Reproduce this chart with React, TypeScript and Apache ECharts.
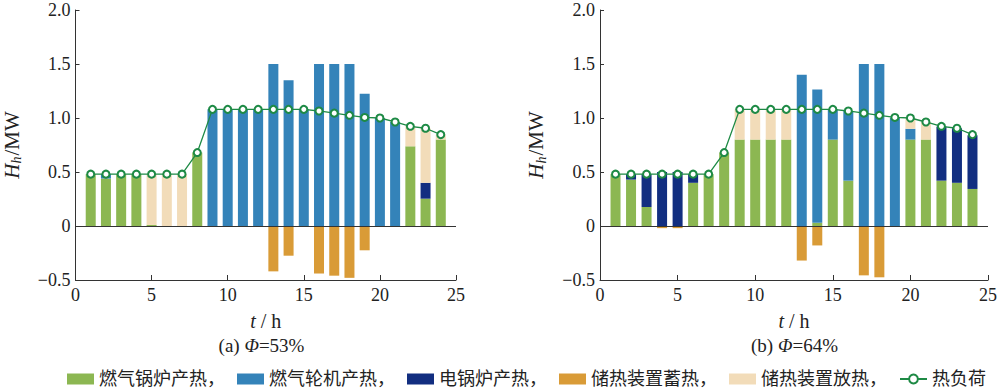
import React, { useEffect, useRef } from "react";
import * as echarts from "echarts";

// ---- data ----
const hours = [1, 2, 3, 4, 5, 6, 7, 8, 9, 10, 11, 12, 13, 14, 15, 16, 17, 18, 19, 20, 21, 22, 23, 24];

const heatLoad = [0.48, 0.48, 0.48, 0.48, 0.48, 0.48, 0.48, 0.68, 1.08, 1.08, 1.08, 1.08, 1.08, 1.08, 1.08, 1.065, 1.045, 1.025, 1.005, 1.0, 0.963, 0.923, 0.905, 0.846];

// (a) Φ = 53%
const gasBoilerA = [0.48, 0.44, 0.48, 0.48, 0.01, 0, 0, 0.68, 0, 0, 0, 0, 0, 0, 0, 0, 0, 0, 0, 0, 0, 0.738, 0.253, 0.8];
const gasTurbineA = [0, 0.04, 0, 0, 0, 0, 0, 0, 1.08, 1.08, 1.08, 1.08, 1.5, 1.35, 1.08, 1.5, 1.5, 1.5, 1.225, 1.0, 0.963, 0, 0, 0];
const elecBoilerA = [0, 0, 0, 0, 0, 0, 0, 0, 0, 0, 0, 0, 0, 0, 0, 0, 0, 0, 0, 0, 0, 0, 0.147, 0];
const storeChargeA = [0, 0, 0, 0, 0, 0, 0, 0, 0, 0, 0, 0, -0.42, -0.275, 0, -0.44, -0.46, -0.48, -0.225, 0, 0, 0, 0, 0];
const storeDischargeA = [0, 0, 0, 0, 0.47, 0.48, 0.48, 0, 0, 0, 0, 0, 0, 0, 0, 0, 0, 0, 0, 0, 0, 0.185, 0.505, 0.046];

// (b) Φ = 64%
const gasBoilerB = [0.48, 0.43, 0.176, 0, 0, 0.4, 0.48, 0.68, 0.8, 0.8, 0.8, 0.8, 0, 0.03, 0.8, 0.42, 0, 0, 0, 0.8, 0.8, 0.42, 0.4, 0.343];
const gasTurbineB = [0, 0, 0, 0, 0, 0, 0, 0, 0, 0, 0, 0, 1.4, 1.235, 0.28, 0.645, 1.5, 1.5, 1.0, 0.1, 0, 0, 0, 0];
const elecBoilerB = [0, 0.05, 0.304, 0.5, 0.5, 0.08, 0, 0, 0, 0, 0, 0, 0, 0, 0, 0, 0, 0, 0, 0, 0, 0.5, 0.505, 0.497];
const storeChargeB = [0, 0, 0, -0.02, -0.02, 0, 0, 0, 0, 0, 0, 0, -0.32, -0.18, 0, 0, -0.457, -0.475, 0, 0, 0, 0, 0, 0];
const storeDischargeB = [0, 0, 0, 0, 0, 0, 0, 0, 0.28, 0.28, 0.28, 0.28, 0, 0, 0, 0, 0, 0, 0, 0.1, 0.163, 0, 0, 0];

// x axis runs 0..25 h, labelled every 5 h
const xCategories = Array.from({ length: 26 }, (_, i) => String(i));
const xLabelStep = 5;
const yTicks = { min: -0.5, max: 2.0, interval: 0.5 };

const names = ["燃气锅炉产热", "燃气轮机产热", "电锅炉产热", "储热装置蓄热", "储热装置放热", "热负荷"];
const colors = ["#8cb752", "#3483b9", "#122e80", "#d99b37", "#f2dcb9", "#1e8a45"];
const captions = [
  { tag: "(a) ", phi: "=53%" },
  { tag: "(b) ", phi: "=64%" },
];

const FONT = "'Liberation Serif', 'Times New Roman', 'Noto Sans CJK SC', serif";

function toSlots(arr: number[]): (number | null)[] {
  const out: (number | null)[] = xCategories.map(() => null);
  hours.forEach((h, j) => {
    out[h] = arr[j];
  });
  return out;
}

export default function App() {
  const ref = useRef<HTMLDivElement>(null);

  useEffect(() => {
    if (!ref.current) return;
    const chart = echarts.init(ref.current, undefined, { renderer: "svg" });

    const gridLefts = [67, 600];
    const gridW = 389;
    const panels = [
      [gasBoilerA, gasTurbineA, elecBoilerA, storeChargeA, storeDischargeA],
      [gasBoilerB, gasTurbineB, elecBoilerB, storeChargeB, storeDischargeB],
    ];

    const axisLine = { show: true, onZero: false, lineStyle: { color: "#333", width: 1 } };

    const xAxes = [0, 1].map((i) => ({
      type: "category",
      gridIndex: i,
      data: xCategories,
      boundaryGap: false,
      axisLine,
      axisTick: { show: true, inside: true, length: 5, interval: xLabelStep - 1, lineStyle: { color: "#333" } },
      splitLine: { show: false },
      axisLabel: { fontSize: 18, fontFamily: FONT, color: "#222", margin: 6, interval: xLabelStep - 1 },
      name: "{i|t}{n| / h}",
      nameLocation: "middle",
      nameGap: 31,
      nameTextStyle: {
        fontFamily: FONT,
        color: "#222",
        rich: {
          i: { fontStyle: "italic", fontSize: 20, fontFamily: FONT, color: "#222" },
          n: { fontSize: 20, fontFamily: FONT, color: "#222" },
        },
      },
    }));

    const yAxes = [0, 1].map((i) => ({
      type: "value",
      gridIndex: i,
      min: yTicks.min,
      max: yTicks.max,
      interval: yTicks.interval,
      axisLine,
      axisTick: { show: true, inside: true, length: 4, lineStyle: { color: "#333" } },
      splitLine: { show: false },
      axisLabel: {
        fontSize: 18,
        fontFamily: FONT,
        color: "#222",
        margin: 5,
        formatter: (v: number) => (v === 0 ? "0" : v < 0 ? "\u2212" + Math.abs(v).toFixed(1) : v.toFixed(1)),
      },
      name: "{i|H}{s|h}{n|/MW}",
      nameLocation: "middle",
      nameGap: 52,
      nameRotate: 90,
      nameTextStyle: {
        fontFamily: FONT,
        color: "#222",
        rich: {
          i: { fontStyle: "italic", fontSize: 21, fontFamily: FONT, color: "#222", lineHeight: 24, verticalAlign: "middle" },
          s: { fontStyle: "italic", fontSize: 14, fontFamily: FONT, color: "#222", lineHeight: 24, verticalAlign: "bottom", padding: [8, 1, 0, 0] },
          n: { fontSize: 21, fontFamily: FONT, color: "#222", lineHeight: 24, verticalAlign: "middle" },
        },
      },
    }));

    const series: any[] = [];
    panels.forEach((arrs, p) => {
      arrs.forEach((arr, k) => {
        series.push({
          name: names[k],
          type: "bar",
          xAxisIndex: p,
          yAxisIndex: p,
          stack: "s" + p,
          barWidth: 10,
          itemStyle: { color: colors[k] },
          data: toSlots(arr),
          ...(k === 0
            ? {
                markLine: {
                  silent: true,
                  symbol: "none",
                  label: { show: false },
                  lineStyle: { color: "#333", type: "solid", width: 1 },
                  data: [{ yAxis: 0 }],
                },
              }
            : {}),
        });
      });
      series.push({
        name: names[5],
        type: "line",
        xAxisIndex: p,
        yAxisIndex: p,
        z: 5,
        symbol: "emptyCircle",
        symbolSize: 7,
        connectNulls: false,
        lineStyle: { color: colors[5], width: 1.3 },
        itemStyle: { color: colors[5], borderWidth: 1.3 },
        data: toSlots(heatLoad),
      });
    });

    const graphic = captions.map((c, i) => ({
      type: "text",
      x: gridLefts[i] + gridW / 2,
      y: 345,
      style: {
        text: c.tag + "{i|Φ}" + c.phi,
        fontSize: 19,
        fontFamily: FONT,
        fill: "#222",
        align: "center",
        verticalAlign: "middle",
        rich: {
          i: { fontStyle: "italic", fontSize: 19, fontFamily: FONT, fill: "#222" },
        },
      },
    }));

    chart.setOption({
      animation: false,
      backgroundColor: "#fff",
      grid: gridLefts.map((l) => ({ left: l, top: 10, width: gridW, height: 270 })),
      xAxis: xAxes,
      yAxis: yAxes,
      legend: {
        top: 370,
        left: 67,
        width: 933,
        padding: 0,
        itemWidth: 27,
        itemHeight: 11,
        itemGap: 12,
        textStyle: { fontSize: 18, fontFamily: FONT, color: "#222", lineHeight: 18 },
        formatter: (n: string) => (n === names[5] ? n : n + "，"),
        data: names.map((n, k) =>
          k < 5 ? { name: n, icon: "rect" } : { name: n, itemStyle: { borderWidth: 1 } }
        ),
      },
      series,
      graphic,
    } as any);

    return () => chart.dispose();
  }, []);

  return (
    <div
      ref={ref}
      style={{ position: "fixed", left: 0, top: 0, width: 1000, height: 390, background: "#fff" }}
    />
  );
}
